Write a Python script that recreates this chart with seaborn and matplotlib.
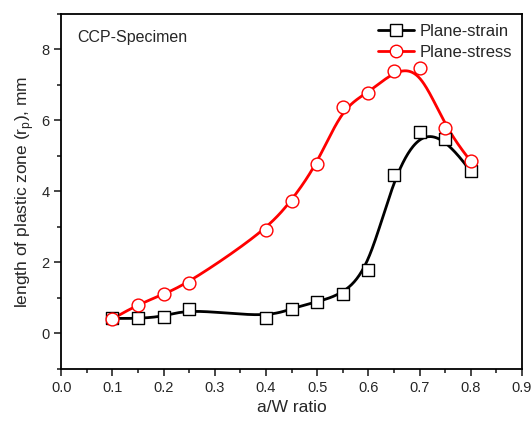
import seaborn as sns
import matplotlib.pyplot as plt
from matplotlib.lines import Line2D
from matplotlib.ticker import MultipleLocator, FormatStrFormatter
import pandas as pd
import numpy as np

# data
aw = [0.1, 0.15, 0.2, 0.25, 0.4, 0.45, 0.5, 0.55, 0.6, 0.65, 0.7, 0.75, 0.8]
strain = [0.42, 0.42, 0.47, 0.70, 0.44, 0.70, 0.89, 1.10, 1.79, 4.45, 5.68, 5.49, 4.57]
stress = [0.41, 0.81, 1.10, 1.43, 2.90, 3.74, 4.76, 6.39, 6.77, 7.40, 7.49, 5.80, 4.85]
series = ['Plane-strain', 'Plane-stress']


def bspline(x, y, n=40):
    # uniform cubic B-spline, data used as control points, clamped ends
    px = np.r_[[x[0]] * 2, x, [x[-1]] * 2]
    py = np.r_[[y[0]] * 2, y, [y[-1]] * 2]
    t = np.linspace(0, 1, n, endpoint=False)
    b0 = (1 - t) ** 3 / 6
    b1 = (3 * t ** 3 - 6 * t ** 2 + 4) / 6
    b2 = (-3 * t ** 3 + 3 * t ** 2 + 3 * t + 1) / 6
    b3 = t ** 3 / 6
    xs, ys = [], []
    for i in range(len(px) - 3):
        xs.append(b0 * px[i] + b1 * px[i + 1] + b2 * px[i + 2] + b3 * px[i + 3])
        ys.append(b0 * py[i] + b1 * py[i + 1] + b2 * py[i + 2] + b3 * py[i + 3])
    xs.append([x[-1]])
    ys.append([y[-1]])
    return np.concatenate(xs), np.concatenate(ys)


sns.set_style("ticks")
plt.rcParams['font.family'] = ['Liberation Sans', 'DejaVu Sans']
plt.rcParams['mathtext.fontset'] = 'custom'
plt.rcParams['mathtext.rm'] = 'Liberation Sans'

pts = pd.DataFrame({'aw': aw * 2, 'rp': strain + stress,
                    'kind': [series[0]] * len(aw) + [series[1]] * len(aw)})
curves = []
for k, vals in zip(series, [strain, stress]):
    cx, cy = bspline(np.array(aw), np.array(vals))
    curves.append(pd.DataFrame({'aw': cx, 'rp': cy, 'kind': k}))
curves = pd.concat(curves)

colors = {'Plane-strain': 'black', 'Plane-stress': '#ff0000'}
markers = {'Plane-strain': 's', 'Plane-stress': 'o'}

fig = plt.figure(figsize=(5.32, 4.23), dpi=100)
ax = fig.add_axes([0.115, 0.128, 0.866, 0.839])
sns.lineplot(data=curves, x='aw', y='rp', hue='kind', palette=colors, sort=False,
             estimator=None, linewidth=2.0, legend=False, ax=ax)
for k in series:
    d = pts[pts.kind == k]
    sns.scatterplot(data=d, x='aw', y='rp', marker=markers[k], s=85, color='white',
                    edgecolor=colors[k], linewidth=1.0, ax=ax, zorder=3, legend=False)

ax.set_xlim(0.0, 0.9)
ax.set_ylim(-1, 9)
ax.xaxis.set_major_locator(MultipleLocator(0.1))
ax.xaxis.set_minor_locator(MultipleLocator(0.05))
ax.xaxis.set_major_formatter(FormatStrFormatter('%.1f'))
ax.yaxis.set_major_locator(MultipleLocator(2))
ax.yaxis.set_minor_locator(MultipleLocator(1))
ax.tick_params(which='major', direction='out', length=5, width=1.2, labelsize=10.5)
ax.tick_params(which='minor', direction='out', length=3, width=1.2)
for s in ax.spines.values():
    s.set_linewidth(1.3)
    s.set_color('black')

ax.set_xlabel('a/W ratio', fontsize=12.5)
ax.set_ylabel(r'length of plastic zone (r$_\mathregular{p}$), mm', fontsize=12.5)
ax.text(0.035, 0.955, 'CCP-Specimen', transform=ax.transAxes, fontsize=11.5, va='top')

handles = [Line2D([], [], color=colors[k], marker=markers[k], markersize=9,
                  markerfacecolor='white', markeredgecolor=colors[k], linewidth=2.0)
           for k in series]
ax.legend(handles, series, loc='upper right', frameon=False, fontsize=12,
          handlelength=2.2, handletextpad=0.3, borderaxespad=0.2, labelspacing=0.35)

fig.savefig('out.png', dpi=100)
